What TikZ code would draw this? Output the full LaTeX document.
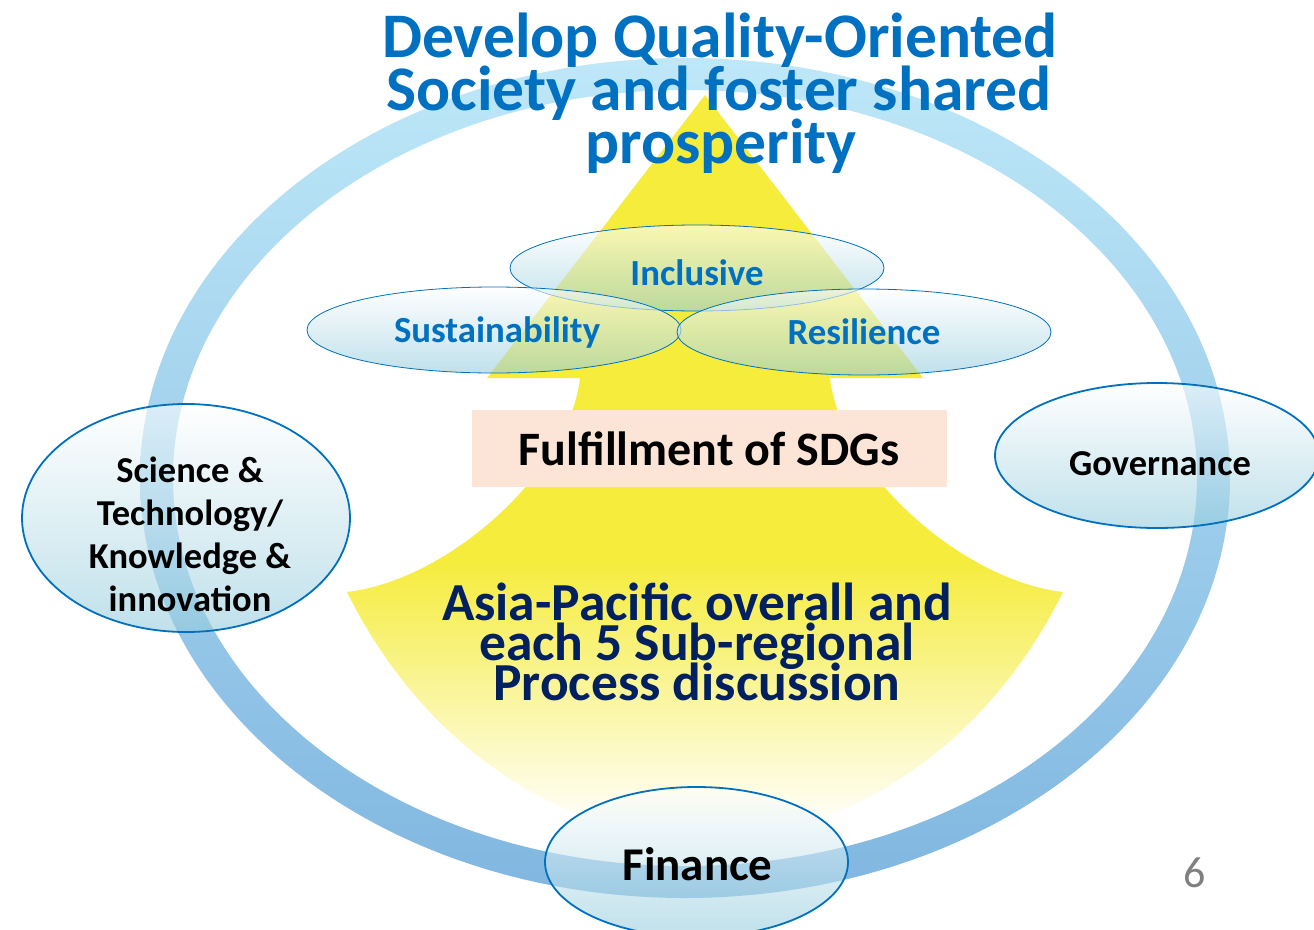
\documentclass[tikz,border=0pt]{standalone}
\usepackage{fontspec}
\setmainfont{Carlito}
\usetikzlibrary{shapes.geometric}
\definecolor{titleblue}{RGB}{0,112,192}
\definecolor{navy}{RGB}{0,32,96}
\definecolor{arrowyellow}{RGB}{245,236,60}
\definecolor{ringtop}{RGB}{190,232,248}
\definecolor{ringbot}{RGB}{128,182,224}
\definecolor{ellbot}{RGB}{150,205,222}
\definecolor{peach}{RGB}{252,229,215}
\definecolor{pagegray}{RGB}{128,128,128}
\begin{document}
\begin{tikzpicture}[x=1pt,y=-1pt,
  bubble/.style={ellipse, draw=titleblue, inner sep=0pt, top color=white, bottom color=ellbot, fill opacity=0.6, text opacity=1},
  petal/.style={bubble, line width=0.8pt, minimum width=374pt, minimum height=86pt},
  pillar/.style={bubble, line width=1.8pt},
  petaltext/.style={font=\bfseries\fontsize{36.8}{40}\selectfont, text=titleblue, anchor=base, inner sep=0pt},
  pillartext/.style={font=\bfseries\fontsize{36.5}{40}\selectfont, text=black, anchor=base, inner sep=0pt},
  titletext/.style={font=\bfseries\fontsize{63.5}{53}\selectfont, text=titleblue, anchor=base, inner sep=0pt},
  asiatext/.style={font=\bfseries\fontsize{53.5}{40}\selectfont, text=navy, anchor=base, inner sep=0pt}
]
\useasboundingbox (0,0) rectangle (1314,929);
\fill[white] (0,0) rectangle (1314,929);
% ring
\shade[top color=ringtop, bottom color=ringbot, even odd rule]
  (685,478) ellipse [x radius=545, y radius=420]
  (685,478) ellipse [x radius=512, y radius=388];
% yellow arrow
\begin{scope}
\clip (705,95) -- (923,378) -- (830,378)
  .. controls (840,470) and (960,580) .. (1063,592)
  .. controls (980,760) and (830,840) .. (705,840)
  .. controls (580,840) and (430,760) .. (347,592)
  .. controls (450,580) and (570,470) .. (580,378)
  -- (487,378) -- cycle;
\fill[arrowyellow] (300,80) rectangle (1100,561);
\shade[top color=arrowyellow, bottom color=white] (300,560) rectangle (1100,830);
\end{scope}
% title
\node[titletext] (title1) at (720,57) {Develop Quality-Oriented};
\node[titletext] (title2) at (719,110) {Society and foster shared};
\node[titletext] (title3) at (721,163) {prosperity};
% petals
\node[petal] (incl) at (697,268) {};
\node[petal] (sust) at (494,330) {};
\node[petal] (resil) at (864,332) {};
\node[petaltext] (inclT) at (697,285) {Inclusive};
\node[petaltext] (sustT) at (497,342) {Sustainability};
\node[petaltext] (resilT) at (864,344) {Resilience};
% SDG box
\node[fill=peach, minimum width=475pt, minimum height=77pt, inner sep=0pt] (sdg) at (709.5,448.5) {};
\node[font=\bfseries\fontsize{48}{50}\selectfont, anchor=base, inner sep=0pt] (sdgT) at (709,465) {Fulfillment of SDGs};
% Asia-Pacific text
\node[asiatext] (asia1) at (697,620) {Asia-Pacific overall and};
\node[asiatext] (asia2) at (697,660) {each 5 Sub-regional};
\node[asiatext] (asia3) at (697,700) {Process discussion};
% pillars
\node[pillar, minimum width=328pt, minimum height=228pt] (sci) at (186,518) {};
\node[pillar, minimum width=324pt, minimum height=145pt] (gov) at (1157,455.5) {};
\node[pillar, minimum width=303pt, minimum height=150pt] (fin) at (696.5,862) {};
\node[pillartext] (sci1) at (190,482) {Science \&};
\node[pillartext] (sci2) at (190,525) {Technology/};
\node[pillartext] (sci3) at (190,568) {Knowledge \&};
\node[pillartext] (sci4) at (190,611) {innovation};
\node[pillartext] (govT) at (1160,475) {Governance};
\node[font=\bfseries\fontsize{47}{50}\selectfont, anchor=base, inner sep=0pt] (finT) at (697.5,880) {Finance};
% page number
\node[font=\fontsize{44}{50}\selectfont, text=pagegray, anchor=base, inner sep=0pt] (pnum) at (1195,887) {6};
\end{tikzpicture}
\end{document}
